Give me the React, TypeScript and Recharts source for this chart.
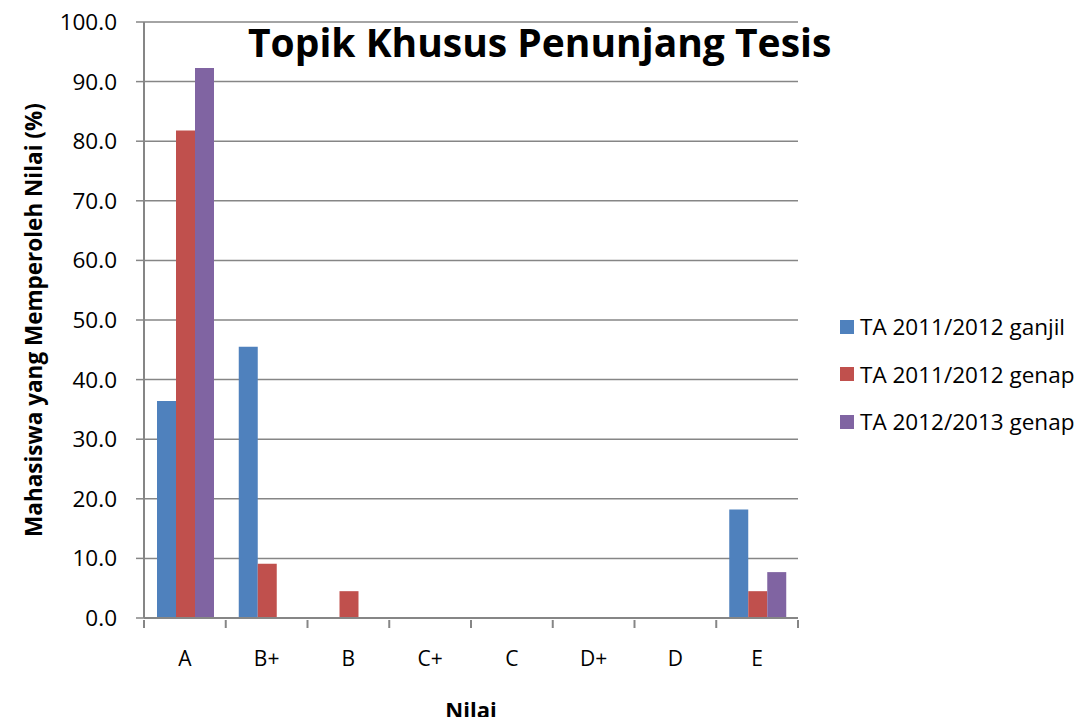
import React from 'react';
import { BarChart, Bar, XAxis, YAxis, CartesianGrid, Legend } from 'recharts';

const categories = ['A', 'B+', 'B', 'C+', 'C', 'D+', 'D', 'E'];
const ganjil1112 = [36.4, 45.5, 0, 0, 0, 0, 0, 18.2];
const genap1112 = [81.8, 9.1, 4.5, 0, 0, 0, 0, 4.5];
const genap1213 = [92.3, 0, 0, 0, 0, 0, 0, 7.7];
const yTicks = [0, 10, 20, 30, 40, 50, 60, 70, 80, 90, 100];

const seriesNames = ['TA 2011/2012 ganjil', 'TA 2011/2012 genap', 'TA 2012/2013 genap'];
const seriesKeys = ['s1', 's2', 's3'];
const colors = ['#4F81BD', '#C0504D', '#8064A2'];

const data = categories.map((c, i) => ({
  name: c,
  s1: ganjil1112[i],
  s2: genap1112[i],
  s3: genap1213[i],
}));

const FONT = '"Open Sans", Lato, sans-serif';
const AXIS = '#868686';

const XTick = (props: any) => {
  const { x, y, payload, index, visibleTicksCount } = props;
  const half = payload && payload.offset ? payload.offset : 40.875;
  const isLast = index === (visibleTicksCount ? visibleTicksCount - 1 : categories.length - 1);
  return (
    <g>
      <line x1={x - half} x2={x - half} y1={y - 6} y2={y + 2} stroke={AXIS} strokeWidth={2} />
      {isLast && (
        <line x1={x + half} x2={x + half} y1={y - 6} y2={y + 2} stroke={AXIS} strokeWidth={2} />
      )}
      <text x={x} y={y + 40} textAnchor="middle" fontSize={21} fill="#000" fontFamily={FONT}>
        {payload.value}
      </text>
    </g>
  );
};

const XLabel = (props: any) => {
  const vb = props.viewBox || {};
  const cx = (vb.x || 0) + (vb.width || 0) / 2;
  return (
    <text x={cx} y={718} textAnchor="middle" fontFamily={FONT} fontSize={22} fontWeight="bold" fill="#000">
      Nilai
    </text>
  );
};

const LegendContent = () => (
  <div style={{ fontFamily: FONT, fontSize: 22.5, color: '#000' }}>
    {seriesNames.map((n, i) => (
      <div key={n} style={{ display: 'flex', alignItems: 'center', height: 47.5, whiteSpace: 'nowrap' }}>
        <span style={{ display: 'inline-block', width: 14, height: 14, background: colors[i], marginRight: 6 }} />
        <span>{n}</span>
      </div>
    ))}
  </div>
);

export default function App() {
  return (
    <div style={{ position: 'relative', width: 1092, height: 725, margin: -8, background: '#fff' }}>
      <BarChart
        width={1092}
        height={725}
        data={data}
        margin={{ top: 22, right: 44, bottom: 0, left: 64 }}
        barCategoryGap={13}
        barGap={0}
      >
        <CartesianGrid vertical={false} stroke={AXIS} strokeWidth={1.5} />
        <XAxis
          dataKey="name"
          axisLine={{ stroke: AXIS, strokeWidth: 2 }}
          tickLine={false}
          tick={<XTick />}
          interval={0}
          height={107}
          label={<XLabel />}
        />
        <YAxis
          width={80}
          domain={[0, 100]}
          ticks={yTicks}
          interval={0}
          tickFormatter={(v: number) => v.toFixed(1)}
          axisLine={{ stroke: AXIS, strokeWidth: 2 }}
          tickLine={{ stroke: AXIS, strokeWidth: 1.5 }}
          tickSize={8}
          tickMargin={19}
          tick={{ fontFamily: FONT, fontSize: 22.5, fill: '#000' }}
          label={{
            value: 'Mahasiswa yang Memperoleh Nilai (%)',
            angle: -90,
            position: 'insideLeft',
            offset: -30,
            style: { fontFamily: FONT, fontSize: 22.5, fontWeight: 'bold', fill: '#000', textAnchor: 'middle' },
          }}
        />
        <Legend
          layout="vertical"
          align="right"
          verticalAlign="top"
          wrapperStyle={{ left: 840, top: 303, width: 250 }}
          content={<LegendContent />}
        />
        {seriesKeys.map((k, i) => (
          <Bar key={k} dataKey={k} name={seriesNames[i]} fill={colors[i]} isAnimationActive={false} />
        ))}
      </BarChart>
      <div
        style={{
          position: 'absolute',
          left: 248,
          top: 14,
          fontFamily: FONT,
          fontSize: 39,
          fontWeight: 'bold',
          color: '#000',
          lineHeight: '56px',
          whiteSpace: 'nowrap',
        }}
      >
        Topik Khusus Penunjang Tesis
      </div>
    </div>
  );
}
